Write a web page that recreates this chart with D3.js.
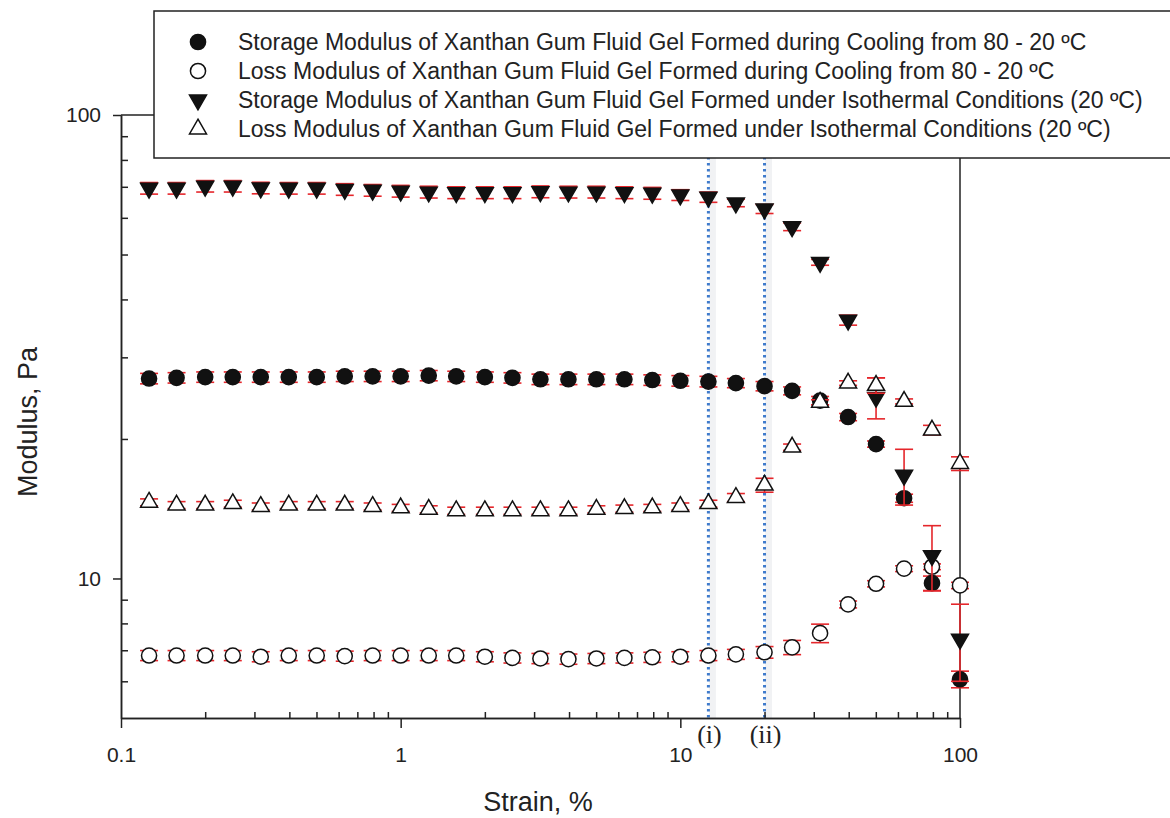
<!DOCTYPE html>
<html>
<head>
<meta charset="utf-8">
<script src="https://cdn.jsdelivr.net/npm/d3@7"></script>
<style>
  body { margin: 0; background: #fff; }
  svg text { font-family: "Liberation Sans", Arial, sans-serif; fill: #222; }
</style>
</head>
<body>
<svg id="chart" width="1170" height="818"></svg>
<script>
// strain points, 10 per decade
const strain = [0.126, 0.158, 0.2, 0.251, 0.316, 0.398, 0.501, 0.631, 0.794, 1,
  1.26, 1.58, 2, 2.51, 3.16, 3.98, 5.01, 6.31, 7.94, 10,
  12.6, 15.8, 20, 25.1, 31.6, 39.8, 50.1, 63.1, 79.4, 100];

// G' cooling (filled circle)
const storageCool = [27.0, 27.1, 27.2, 27.2, 27.2, 27.2, 27.2, 27.3, 27.3, 27.3,
  27.4, 27.3, 27.2, 27.1, 26.9, 26.9, 26.9, 26.9, 26.8, 26.7,
  26.6, 26.4, 26.0, 25.4, 24.2, 22.3, 19.5, 14.9, 9.77, 6.06];
const storageCoolErr = [0.7, 0.7, 0.7, 0.7, 0.7, 0.7, 0.7, 0.7, 0.7, 0.7,
  0.7, 0.7, 0.7, 0.7, 0.7, 0.7, 0.7, 0.7, 0.7, 0.7,
  0.7, 0.6, 0.6, 0.5, 0.5, 0.4, 0.3, 0.3, 0.35, 0.25];

// G'' cooling (open circle)
const lossCool = [6.82, 6.82, 6.82, 6.82, 6.78, 6.82, 6.82, 6.8, 6.82, 6.82,
  6.82, 6.82, 6.78, 6.74, 6.72, 6.7, 6.72, 6.74, 6.76, 6.78,
  6.82, 6.86, 6.93, 7.1, 7.62, 8.79, 9.74, 10.5, 10.6, 9.66];
const lossCoolErr = [0.17, 0.17, 0.17, 0.17, 0.17, 0.17, 0.17, 0.17, 0.17, 0.17,
  0.17, 0.17, 0.17, 0.17, 0.17, 0.17, 0.17, 0.17, 0.17, 0.17,
  0.17, 0.17, 0.2, 0.25, 0.35, 0.15, 0.15, 0.15, 0.15, 0.15];

// G' isothermal (filled triangle down)
const storageIso = [69.5, 69.5, 70.2, 70.2, 69.6, 69.5, 69.5, 69.1, 68.8, 68.5,
  68.2, 68.0, 68.0, 68.0, 68.3, 68.2, 68.2, 68.0, 67.8, 67.2,
  66.5, 64.6, 62.7, 57.4, 48.1, 36.1, 24.6, 16.7, 11.2, 7.4];
const storageIsoErr = [2.0, 2.0, 2.0, 2.0, 2.0, 2.0, 2.0, 2.0, 2.0, 2.0,
  2.0, 2.0, 2.0, 2.0, 2.0, 2.0, 2.0, 2.0, 2.0, 1.8,
  1.7, 1.2, 1.4, 1.1, 0.7, 0.9, 2.5, 2.3, 1.8, 1.4];

// G'' isothermal (open triangle up)
const lossIso = [14.6, 14.4, 14.4, 14.5, 14.3, 14.4, 14.4, 14.4, 14.3, 14.2,
  14.1, 14.0, 14.0, 14.0, 14.0, 14.0, 14.1, 14.15, 14.2, 14.3,
  14.5, 14.95, 15.9, 19.2, 24.0, 26.4, 26.1, 24.1, 20.9, 17.7];
const lossIsoErr = [0.25, 0.25, 0.25, 0.25, 0.25, 0.25, 0.25, 0.25, 0.25, 0.25,
  0.25, 0.25, 0.25, 0.25, 0.25, 0.25, 0.25, 0.25, 0.25, 0.25,
  0.25, 0.3, 0.55, 0.3, 0.3, 0.3, 1.0, 0.3, 0.5, 0.6];

const legendLabels = [
  "Storage Modulus of Xanthan Gum Fluid Gel Formed during Cooling from 80 - 20 ºC",
  "Loss Modulus of Xanthan Gum Fluid Gel Formed during Cooling from 80 - 20 ºC",
  "Storage Modulus of Xanthan Gum Fluid Gel Formed under Isothermal Conditions (20 ºC)",
  "Loss Modulus of Xanthan Gum Fluid Gel Formed under Isothermal Conditions (20 ºC)",
];

const xMajor = [0.1, 1, 10, 100];
const xMinor = [0.2, 0.3, 0.4, 0.5, 0.6, 0.7, 0.8, 0.9, 2, 3, 4, 5, 6, 7, 8, 9, 20, 30, 40, 50, 60, 70, 80, 90];
const yMajor = [10, 100];
const yMinor = [6, 7, 8, 9, 20, 30, 40, 50, 60, 70, 80, 90];

const markers = [
  { name: "i", strain: 12.6 },
  { name: "ii", strain: 20 },
];

const series = [
  { values: storageCool, err: storageCoolErr, shape: "circle", filled: true },
  { values: lossCool, err: lossCoolErr, shape: "circle", filled: false },
  { values: storageIso, err: storageIsoErr, shape: "down", filled: true },
  { values: lossIso, err: lossIsoErr, shape: "up", filled: false },
];

const svg = d3.select("#chart");
const plotLeft = 121, plotRight = 960, plotTop = 115, plotBottom = 718;

const x = d3.scaleLog().domain([0.1, 100]).range([plotLeft, plotRight]);
const y = d3.scaleLog().domain([5, 100]).range([plotBottom, plotTop]);

function symbolPath(shape) {
  if (shape === "circle") return d3.symbol(d3.symbolCircle, 180)();
  return d3.symbol(d3.symbolTriangle, 125)();
}

// frame (top and right)
svg.append("line").attr("x1", plotLeft).attr("x2", plotRight).attr("y1", plotTop).attr("y2", plotTop)
  .attr("stroke", "#222").attr("stroke-width", 1.5);
svg.append("line").attr("x1", plotRight).attr("x2", plotRight).attr("y1", plotTop).attr("y2", plotBottom)
  .attr("stroke", "#222").attr("stroke-width", 1.5);

// dotted reference lines (i), (ii)
const refs = svg.append("g");
refs.selectAll("line.shadow").data(markers).join("line")
  .attr("class", "shadow")
  .attr("x1", (d) => x(d.strain) + 4).attr("x2", (d) => x(d.strain) + 4)
  .attr("y1", plotTop).attr("y2", plotBottom)
  .attr("stroke", "#f1f2f4").attr("stroke-width", 7);
refs.selectAll("line.dot").data(markers).join("line")
  .attr("class", "dot")
  .attr("x1", (d) => x(d.strain)).attr("x2", (d) => x(d.strain))
  .attr("y1", plotTop).attr("y2", plotBottom)
  .attr("stroke", "#3f7bcc").attr("stroke-width", 3)
  .attr("stroke-dasharray", "2.5,3.5");
refs.selectAll("text").data(markers).join("text")
  .attr("x", (d) => x(d.strain) + 1).attr("y", 743)
  .attr("text-anchor", "middle")
  .style("font-family", "'Liberation Serif', 'Times New Roman', serif")
  .style("font-size", "26px")
  .text((d) => `(${d.name})`);

// axes
svg.append("g").attr("transform", `translate(0,${plotBottom})`)
  .call(d3.axisBottom(x).tickValues(xMajor).tickFormat(d3.format("~g")).tickSizeInner(10).tickSizeOuter(0).tickPadding(19));
svg.append("g").attr("transform", `translate(0,${plotBottom})`)
  .call(d3.axisBottom(x).tickValues(xMinor).tickFormat("").tickSizeInner(-6).tickSizeOuter(0));
svg.append("g").attr("transform", `translate(${plotLeft},0)`)
  .call(d3.axisLeft(y).tickValues(yMajor).tickFormat(d3.format("~g")).tickSizeInner(8).tickSizeOuter(0).tickPadding(12));
svg.append("g").attr("transform", `translate(${plotLeft},0)`)
  .call(d3.axisLeft(y).tickValues(yMinor).tickFormat("").tickSizeInner(-7).tickSizeOuter(0));

svg.selectAll(".domain, .tick line").attr("stroke", "#222").attr("stroke-width", 1.5);
svg.selectAll(".tick text").style("font-size", "21px").style("font-family", "'Liberation Sans', Arial, sans-serif").attr("fill", "#222");

// axis titles
svg.append("text").attr("x", 538).attr("y", 811).attr("text-anchor", "middle")
  .style("font-size", "27px").text("Strain, %");
svg.append("text").attr("transform", "translate(37,422) rotate(-90)").attr("text-anchor", "middle")
  .style("font-size", "27px").text("Modulus, Pa");

// data: error bars then symbols, plot by plot
const capHalf = 9;
series.forEach((s) => {
  const pts = strain.map((st, i) => ({ st, v: s.values[i], e: s.err[i] }));
  const g = svg.append("g");
  const eb = g.append("g").attr("stroke", "#e5262b").attr("stroke-width", 1.6);
  eb.selectAll("line.stem").data(pts).join("line").attr("class", "stem")
    .attr("x1", (d) => x(d.st)).attr("x2", (d) => x(d.st))
    .attr("y1", (d) => y(d.v + d.e)).attr("y2", (d) => y(d.v - d.e));
  eb.selectAll("line.capHi").data(pts).join("line").attr("class", "capHi")
    .attr("x1", (d) => x(d.st) - capHalf).attr("x2", (d) => x(d.st) + capHalf)
    .attr("y1", (d) => y(d.v + d.e)).attr("y2", (d) => y(d.v + d.e));
  eb.selectAll("line.capLo").data(pts).join("line").attr("class", "capLo")
    .attr("x1", (d) => x(d.st) - capHalf).attr("x2", (d) => x(d.st) + capHalf)
    .attr("y1", (d) => y(d.v - d.e)).attr("y2", (d) => y(d.v - d.e));

  const rot = s.shape === "down" ? " rotate(180)" : "";
  g.append("g").selectAll("path").data(pts).join("path")
    .attr("d", symbolPath(s.shape))
    .attr("transform", (d) => `translate(${x(d.st)},${y(d.v)})${rot}`)
    .attr("fill", s.filled ? "#111" : "#fff")
    .attr("stroke", "#111").attr("stroke-width", 1.5);
});

// legend box
const legend = svg.append("g");
legend.append("rect").attr("x", 154).attr("y", 11).attr("width", 1030).attr("height", 147)
  .attr("fill", "#fff").attr("stroke", "#222").attr("stroke-width", 1.5);
const rows = legend.selectAll("g.row").data(series).join("g").attr("class", "row")
  .attr("transform", (d, i) => `translate(198,${42 + i * 29})`);
rows.append("path")
  .attr("d", (d) => symbolPath(d.shape))
  .attr("transform", (d) => (d.shape === "down" ? "rotate(180)" : ""))
  .attr("fill", (d) => (d.filled ? "#111" : "#fff"))
  .attr("stroke", "#111").attr("stroke-width", 1.5);
rows.append("text").attr("x", 40).attr("dy", "0.35em")
  .style("font-size", "23px")
  .text((d, i) => legendLabels[i]);
</script>
</body>
</html>
